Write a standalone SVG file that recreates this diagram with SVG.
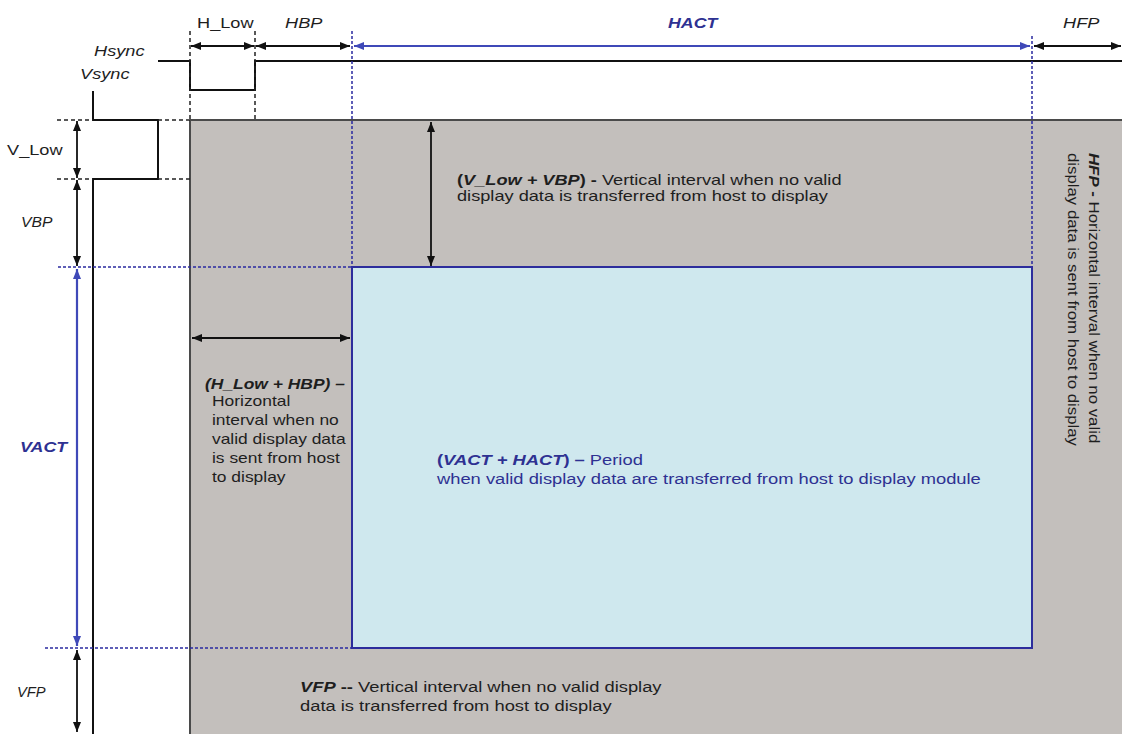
<svg xmlns="http://www.w3.org/2000/svg" width="1122" height="734" viewBox="0 0 1122 734">
<defs>
<style>
text{font-family:"Liberation Sans",Arial,sans-serif;font-size:14px;fill:#1e1e1e}
.it{font-style:italic}
.bi{font-style:italic;font-weight:bold}
.b{font-weight:bold}
.blue{fill:#2e3192}
.sig{fill:none;stroke:#111;stroke-width:2}
.dash{fill:none;stroke:#222;stroke-width:1.5;stroke-dasharray:4 3}
.bdash{fill:none;stroke:#2a2aa0;stroke-width:1.5;stroke-dasharray:3 2}
.arr{fill:none;stroke:#111;stroke-width:1.8;marker-start:url(#ah);marker-end:url(#ah)}
.barr{fill:none;stroke:#3f49b8;stroke-width:2.2;marker-start:url(#bh);marker-end:url(#bh)}
</style>
<marker id="ah" viewBox="0 0 10 8" refX="10" refY="4" markerWidth="10" markerHeight="8" markerUnits="userSpaceOnUse" orient="auto-start-reverse"><path d="M0,0L10,4L0,8z" fill="#111"/></marker>
<marker id="bh" viewBox="0 0 10 8" refX="10" refY="4" markerWidth="10" markerHeight="8" markerUnits="userSpaceOnUse" orient="auto-start-reverse"><path d="M0,0L10,4L0,8z" fill="#3f49b8"/></marker>
</defs>
<rect width="1122" height="734" fill="#ffffff"/>

<g id="blank-area">
<rect x="190" y="120" width="932" height="614" fill="#c3bfbc"/>
<line x1="190" y1="120" x2="1122" y2="120" stroke="#4a4a4a" stroke-width="2"/>
<line x1="190" y1="120" x2="190" y2="734" stroke="#4a4a4a" stroke-width="2"/>
</g>

<g id="active-area">
<rect x="352" y="267" width="680" height="381" fill="#cfe8ee" stroke="#2d2d9c" stroke-width="2"/>
</g>

<g id="hsync">
<polyline class="sig" points="158,61 190,61 190,90 255,90 255,61 1122,61"/>
<text class="it" transform="translate(94,56) scale(1.3,1)">Hsync</text>
</g>

<g id="vsync">
<polyline class="sig" points="93,91 93,120 158,120 158,179 93,179 93,734"/>
<text class="it" transform="translate(80,79) scale(1.3,1)">Vsync</text>
</g>

<g id="guides">
<line class="dash" x1="190" y1="31" x2="190" y2="120"/>
<line class="dash" x1="255" y1="31" x2="255" y2="120"/>
<line class="bdash" x1="352" y1="31" x2="352" y2="267"/>
<line class="bdash" x1="1032" y1="36" x2="1032" y2="267"/>
<line class="dash" x1="57" y1="120" x2="93" y2="120"/>
<line class="dash" x1="158" y1="120" x2="190" y2="120"/>
<line class="dash" x1="57" y1="179" x2="93" y2="179"/>
<line class="dash" x1="158" y1="179" x2="190" y2="179"/>
<line class="bdash" x1="58" y1="267" x2="352" y2="267"/>
<line class="bdash" x1="45" y1="648" x2="352" y2="648"/>
</g>

<g id="connectors">
<line class="arr" x1="191" y1="46" x2="254" y2="46"/>
<line class="arr" x1="256" y1="46" x2="350" y2="46"/>
<line class="barr" x1="354" y1="46" x2="1030" y2="46"/>
<line class="arr" x1="1034" y1="46" x2="1121" y2="46"/>
<line class="arr" x1="77" y1="121" x2="77" y2="178"/>
<line class="arr" x1="77" y1="180" x2="77" y2="266"/>
<line class="barr" x1="77" y1="269" x2="77" y2="646"/>
<line class="arr" x1="77" y1="650" x2="77" y2="732"/>
<line class="arr" x1="431" y1="122" x2="431" y2="266"/>
<line class="arr" x1="192" y1="338" x2="350" y2="338"/>
</g>

<g id="dimension-labels">
<text transform="translate(197,28) scale(1.3,1)">H_Low</text>
<text class="it" transform="translate(285,28) scale(1.3,1)">HBP</text>
<text class="bi blue" transform="translate(668,28) scale(1.27,1)">HACT</text>
<text class="it" transform="translate(1063,28) scale(1.3,1)">HFP</text>
<text transform="translate(7,155) scale(1.3,1)">V_Low</text>
<text class="it" transform="translate(21,227) scale(1.12,1)">VBP</text>
<text class="bi blue" transform="translate(20,452) scale(1.27,1)">VACT</text>
<text class="it" transform="translate(17,697) scale(1.05,1)">VFP</text>
</g>

<g id="vblank-note" transform="translate(457,185) scale(1.3,1)">
<text x="0" y="0"><tspan class="b">(</tspan><tspan class="bi">V_Low + VBP</tspan><tspan class="b">) - </tspan>Vertical interval when no valid</text>
<text x="0" y="16">display data is transferred from host to display</text>
</g>

<g id="hblank-note" transform="translate(205,389) scale(1.245,1)">
<text x="0" y="0" class="bi">(H_Low + HBP) –</text>
<text x="5.6" y="17">Horizontal</text>
<text x="5.6" y="36">interval when no</text>
<text x="5.6" y="55">valid display data</text>
<text x="5.6" y="74">is sent from host</text>
<text x="5.6" y="93">to display</text>
</g>

<g id="active-note" transform="translate(437,465) scale(1.31,1)">
<text x="0" y="0" class="blue"><tspan class="b">(</tspan><tspan class="bi">VACT + HACT</tspan><tspan class="b">) – </tspan>Period</text>
<text x="0" y="19" class="blue">when valid display data are transferred from host to display module</text>
</g>

<g id="vfp-note" transform="translate(300,692) scale(1.31,1)">
<text x="0" y="0"><tspan class="bi">VFP</tspan><tspan class="b"> -- </tspan>Vertical interval when no valid display</text>
<text x="0" y="19">data is transferred from host to display</text>
</g>

<g id="hfp-note" transform="translate(1089,153) rotate(90) scale(1.2,1)">
<text x="0" y="0"><tspan class="bi">HFP</tspan><tspan class="b"> - </tspan>Horizontal interval when no valid</text>
<text x="0" y="21">display data is sent from host to display</text>
</g>
</svg>
